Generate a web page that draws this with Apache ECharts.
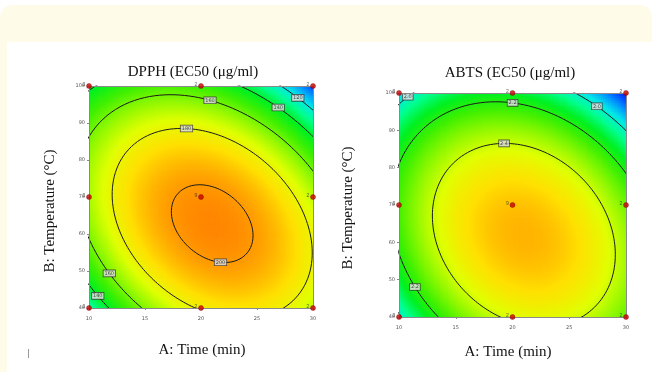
<!DOCTYPE html>
<html><head><meta charset="utf-8">
<script src="https://cdn.jsdelivr.net/npm/echarts@6/dist/echarts.min.js"></script>
<style>html,body{margin:0;padding:0;background:#fff}#c{width:652px;height:372px}</style>
</head><body><div id="c"></div>
<script>
// ---------- data ----------
const timeTicks = [10, 15, 20, 25, 30];          // A: Time (min)
const tempTicks = [40, 50, 60, 70, 80, 90, 100];  // B: Temperature (°C)
// design points and replicate counts
const designTime = [10, 20, 30, 10, 20, 30, 10, 20, 30];
const designTemp = [40, 40, 40, 70, 70, 70, 100, 100, 100];
const designReps = ['2', '2', '2', '2', '9', '2', '2', '2', '2'];
// fitted response surfaces (coded units): peak A, peak B, peak value
const dpphPeak = [0.10, -0.24, 204];
const dpphCurv = [33.2, 36, 21.2];       // A², B², AB curvature
const dpphLevels = [200, 180, 160, 140, 120];
const dpphLabelLevels = [200, 180, 160, 160, 140, 140, 120];
const dpphLabelAngles = [-78, 105, 91, 206, 60.6, 212.5, 56];
const abtsPeak = [0.10, -0.27, 2.58];
const abtsCurv = [0.29, 0.28, 0.12];
const abtsLevels = [2.4, 2.2, 2.0];
const abtsLabelLevels = [2.4, 2.2, 2.2, 2.0, 2.0];
const abtsLabelAngles = [102, 94.8, 205.7, 129.6, 60.8];
const titles = ['DPPH (EC50 (μg/ml)', 'ABTS (EC50 (μg/ml)'];

// ---------- helpers ----------
function model(peak, curv, A, B) {
  const u = (A - 20) / 10 - peak[0], v = (B - 70) / 30 - peak[1];
  return peak[2] - (curv[0] * u * u + curv[1] * v * v + curv[2] * u * v);
}
function surface(peak, curv) {
  const N = 100, out = [];
  for (let i = 0; i < N; i++) for (let j = 0; j < N; j++) {
    const A = 10 + (i + 0.5) * 20 / N, B = 40 + (j + 0.5) * 60 / N;
    out.push([A, B, model(peak, curv, A, B)]);
  }
  return out;
}
function contourPoint(peak, curv, level, deg) {
  const t = deg * Math.PI / 180, c = Math.cos(t), s = Math.sin(t);
  const den = curv[0] * c * c + curv[1] * s * s + curv[2] * c * s;
  const rho = Math.sqrt((peak[2] - level) / den);
  return [20 + 10 * (peak[0] + rho * c), 70 + 30 * (peak[1] + rho * s)];
}
function contour(peak, curv, level) {
  const pts = [];
  for (let k = 0; k <= 360; k += 2) pts.push(contourPoint(peak, curv, level, k));
  return pts;
}
const dA = 20 / 100, dB = 60 / 100;
function cellRender(params, api) {
  const a = api.value(0), b = api.value(1);
  const p1 = api.coord([a - dA / 2, b + dB / 2]);
  const p2 = api.coord([a + dA / 2, b - dB / 2]);
  return { type: 'rect', shape: { x: p1[0], y: p1[1], width: p2[0] - p1[0] + 0.7, height: p2[1] - p1[1] + 0.7 },
    style: { fill: api.visual('color') } };
}
const palette = ['#0030ff', '#0090ff', '#00e8e8', '#00ff90', '#00f020', '#40f000', '#90f800', '#e0ff00', '#ffe000', '#ffa000', '#ff6a00'];

const grids = [
  { left: 89, top: 86, width: 224, height: 222 },
  { left: 399, top: 93, width: 227, height: 224 }
];
const xAxes = [], yAxes = [];
[0, 1].forEach(g => {
  xAxes.push({ type: 'value', gridIndex: g, min: timeTicks[0], max: timeTicks[timeTicks.length - 1], interval: 5, z: 5,
    axisLine: { lineStyle: { color: '#8a8a8a', width: 1 } }, axisTick: { length: 2, lineStyle: { color: '#8a8a8a' } },
    splitLine: { show: false }, axisLabel: { fontSize: 5, color: '#555', margin: 8, fontFamily: 'DejaVu Sans' } });
  yAxes.push({ type: 'value', gridIndex: g, min: tempTicks[0], max: tempTicks[tempTicks.length - 1], interval: 10, z: 5,
    axisLine: { lineStyle: { color: '#8a8a8a', width: 1 } }, axisTick: { length: 2, lineStyle: { color: '#8a8a8a' } },
    splitLine: { show: false }, axisLabel: { fontSize: 5, color: '#555', margin: 4, fontFamily: 'DejaVu Sans' } });
});
[0, 1].forEach(g => {
  xAxes.push({ type: 'value', gridIndex: g, position: 'top', min: 10, max: 30, z: 5,
    axisLine: { lineStyle: { color: '#8a8a8a', width: 1 } }, axisTick: { show: false }, axisLabel: { show: false }, splitLine: { show: false } });
  yAxes.push({ type: 'value', gridIndex: g, position: 'right', min: 40, max: 100, z: 5,
    axisLine: { lineStyle: { color: '#8a8a8a', width: 1 } }, axisTick: { show: false }, axisLabel: { show: false }, splitLine: { show: false } });
});

const series = [
  { type: 'custom', xAxisIndex: 0, yAxisIndex: 0, data: surface(dpphPeak, dpphCurv), renderItem: cellRender, clip: true, silent: true, z: 1 },
  { type: 'custom', xAxisIndex: 1, yAxisIndex: 1, data: surface(abtsPeak, abtsCurv), renderItem: cellRender, clip: true, silent: true, z: 1 }
];
function addContours(g, peak, curv, levels, labLevels, labAngles, digits) {
  levels.forEach(L => series.push({ type: 'line', xAxisIndex: g, yAxisIndex: g, data: contour(peak, curv, L),
    showSymbol: false, symbol: 'none', clip: true, silent: true, z: 3, lineStyle: { color: '#1a1a1a', width: 1 } }));
  const labs = labLevels.map((L, i) => contourPoint(peak, curv, L, labAngles[i]).concat([L]));
  series.push({ type: 'scatter', xAxisIndex: g, yAxisIndex: g, data: labs, symbolSize: 0, z: 4, silent: true,
    label: { show: true, position: 'inside', formatter: p => Number(p.value[2]).toFixed(digits), fontSize: 5, color: '#222',
      backgroundColor: '#e6e6e6', borderColor: '#333', borderWidth: 0.8, padding: [1, 1, 0, 1], fontFamily: 'DejaVu Sans' } });
}
addContours(0, dpphPeak, dpphCurv, dpphLevels, dpphLabelLevels, dpphLabelAngles, 0);
addContours(1, abtsPeak, abtsCurv, abtsLevels, abtsLabelLevels, abtsLabelAngles, 1);
[0, 1].forEach(g => {
  series.push({ type: 'scatter', xAxisIndex: g, yAxisIndex: g, clip: false, z: 6, silent: true,
    data: designTime.map((t, i) => [t, designTemp[i], designReps[i]]), symbolSize: 5,
    itemStyle: { color: '#c80000', borderColor: '#700', borderWidth: 0.5 },
    label: { show: true, position: 'left', distance: 1, offset: [0, -1], formatter: p => p.value[2], fontSize: 5, color: '#333' } });
});

const serif = 'Liberation Serif, Times New Roman, serif';
const graphic = [
  { type: 'rect', shape: { x: 0, y: 5, width: 652, height: 40, r: [12, 12, 0, 0] }, style: { fill: '#fffbe9' }, z: -10 },
  { type: 'rect', shape: { x: 0, y: 40, width: 7, height: 332 }, style: { fill: '#fffbe9' }, z: -10 },
  { type: 'rect', shape: { x: 7, y: 42, width: 645, height: 330 }, style: { fill: '#ffffff' }, z: -9 },
  { type: 'line', shape: { x1: 28.5, y1: 349, x2: 28.5, y2: 358 }, style: { stroke: '#999', lineWidth: 1 } },
  { type: 'text', x: 193, y: 72, style: { text: titles[0], font: '15px ' + serif, fill: '#111', align: 'center', verticalAlign: 'middle' } },
  { type: 'text', x: 510, y: 73, style: { text: titles[1], font: '15px ' + serif, fill: '#111', align: 'center', verticalAlign: 'middle' } },
  { type: 'text', x: 202, y: 350, style: { text: 'A: Time (min)', font: '15px ' + serif, fill: '#111', align: 'center', verticalAlign: 'middle' } },
  { type: 'text', x: 508, y: 352, style: { text: 'A: Time (min)', font: '15px ' + serif, fill: '#111', align: 'center', verticalAlign: 'middle' } },
  { type: 'text', x: 50, y: 211, rotation: Math.PI / 2, style: { text: 'B: Temperature (°C)', font: '15px ' + serif, fill: '#111', align: 'center', verticalAlign: 'middle' } },
  { type: 'text', x: 348, y: 208, rotation: Math.PI / 2, style: { text: 'B: Temperature (°C)', font: '15px ' + serif, fill: '#111', align: 'center', verticalAlign: 'middle' } }
];

const chart = echarts.init(document.getElementById('c'), null, { renderer: 'canvas' });
chart.setOption({
  animation: false,
  backgroundColor: '#ffffff',
  grid: grids,
  xAxis: xAxes,
  yAxis: yAxes,
  visualMap: [
    { show: false, type: 'continuous', seriesIndex: 0, dimension: 2, min: 95, max: 210, inRange: { color: palette } },
    { show: false, type: 'continuous', seriesIndex: 1, dimension: 2, min: 1.78, max: 2.70, inRange: { color: palette } }
  ],
  graphic: graphic,
  series: series
});
</script></body></html>
